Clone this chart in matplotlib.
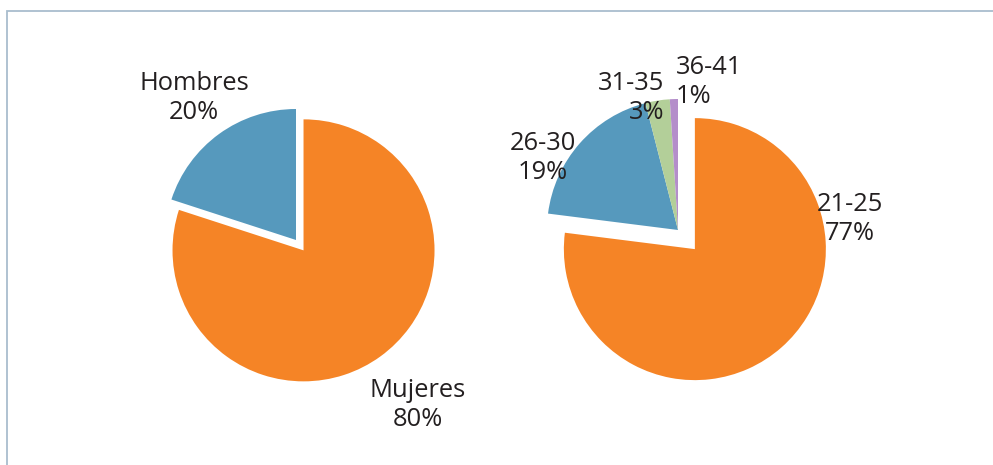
import matplotlib.pyplot as plt

# data
gender_labels = ["Mujeres", "Hombres"]
gender_pct = [80, 20]

age_labels = ["21-25", "26-30", "31-35", "36-41"]
age_pct = [77, 19, 3, 1]

orange = "#F58426"
blue = "#5699BD"
green = "#B3CF99"
purple = "#B48ECA"

plt.rcParams["font.family"] = ["Open Sans", "DejaVu Sans"]

W, H = 993, 465
fig = plt.figure(figsize=(W / 100, H / 100), dpi=100)
ax = fig.add_axes([0, 0, 1, 1])

R = 131
wp = dict(linewidth=0)

# left pie (gender), orange slice pulled out to lower right
ax.pie(gender_pct, colors=[orange, blue], startangle=90, counterclock=False,
       radius=R, center=(296, H - 240), explode=[12.8, 0], wedgeprops=wp, frame=True)

# right pie (age groups)
ax.pie(age_pct, colors=[orange, blue, green, purple], startangle=90, counterclock=False,
       radius=R, center=(678, H - 230), explode=[25.5, 0, 0, 0], wedgeprops=wp, frame=True)

fs = 18.4
txt = dict(fontsize=fs, color="#231F20", va="center", linespacing=1.2)
ax.text(194, H - 98, f"{gender_labels[1]}\n{gender_pct[1]}%", ha="center", multialignment="center", **txt)
ax.text(418, H - 405, f"{gender_labels[0]}\n{gender_pct[0]}%", ha="center", multialignment="center", **txt)

ax.text(850, H - 219, f"{age_labels[0]}\n{age_pct[0]}%", ha="center", multialignment="center", **txt)
ax.text(543, H - 158, f"{age_labels[1]}\n{age_pct[1]}%", ha="center", multialignment="center", **txt)
ax.text(664, H - 98, f"{age_labels[2]}\n{age_pct[2]}%", ha="right", multialignment="right", **txt)
ax.text(676, H - 82, f"{age_labels[3]}\n{age_pct[3]}%", ha="left", multialignment="left", **txt)

# frame lines (left and top)
ax.plot([7, 7, W], [0, H - 11, H - 11], color="#A9BDCE", lw=1.3, solid_joinstyle="miter")

ax.set_xlim(0, W)
ax.set_ylim(0, H)
ax.set_aspect("auto")
ax.axis("off")

fig.savefig("out.png", dpi=100)
